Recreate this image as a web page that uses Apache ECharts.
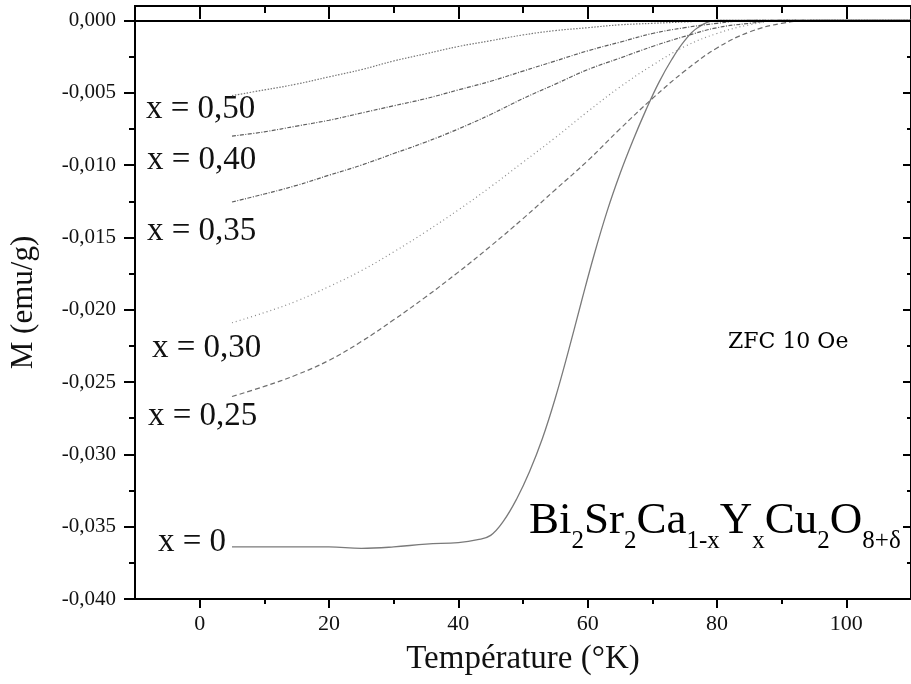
<!DOCTYPE html>
<html>
<head>
<meta charset="utf-8">
<script src="https://cdn.jsdelivr.net/npm/echarts@6/dist/echarts.min.js"></script>
<style>
  html, body { margin: 0; background: #fff; }
  #chart { width: 911px; height: 684px; }
</style>
</head>
<body>
<div id="chart"></div>
<script>
// températures communes aux échantillons dopés (K)
const temps = [5, 10, 15, 20, 25, 30, 35, 40, 45, 50, 55, 60, 65, 70, 75, 80, 85, 90, 95, 100, 105, 110]
const m050 = [-0.0052, -0.0048, -0.0044, -0.0039, -0.0034, -0.0028, -0.0023, -0.0018, -0.0014, -0.0010, -0.0007, -0.0005, -0.0003, -0.0002, -0.0001, 0, 0, 0, 0, 0, 0, 0]
const m040 = [-0.0080, -0.0077, -0.0073, -0.0069, -0.0064, -0.0059, -0.0054, -0.0048, -0.0042, -0.0035, -0.0028, -0.0021, -0.0015, -0.0009, -0.0005, -0.0002, 0, 0, 0, 0, 0, 0]
const m035 = [-0.01255, -0.0120, -0.0114, -0.0107, -0.0100, -0.0092, -0.0084, -0.0075, -0.0065, -0.0054, -0.0044, -0.0034, -0.0026, -0.0018, -0.0011, -0.0005, -0.0002, 0, 0, 0, 0, 0]
const m030 = [-0.0209, -0.0202, -0.0194, -0.0184, -0.0173, -0.0160, -0.0146, -0.0131, -0.0115, -0.0098, -0.0081, -0.0063, -0.0046, -0.0031, -0.0018, -0.0009, -0.0003, 0, 0, 0, 0, 0]
const m025 = [-0.0260, -0.0253, -0.0245, -0.0235, -0.0222, -0.0207, -0.0191, -0.0174, -0.0156, -0.0137, -0.0117, -0.0097, -0.0075, -0.0054, -0.0035, -0.0019, -0.0008, -0.0002, 0, 0, 0, 0]

// x = 0 : transition plus abrupte, points plus serrés
const temps0 = [5, 10, 15, 20, 25, 30, 35, 40, 43, 45, 47, 49, 51, 53, 55, 57, 59, 61, 63, 65, 67, 69, 71, 73, 75, 77, 80, 85, 90, 95, 100, 105, 110]
const m000 = [-0.0364, -0.0364, -0.0364, -0.0364, -0.0365, -0.0364, -0.0362, -0.0361, -0.0359, -0.0356, -0.0346, -0.0331, -0.0312, -0.0289, -0.0261, -0.0229, -0.0195, -0.0162, -0.0132, -0.0106, -0.0083, -0.0062, -0.0043, -0.0027, -0.0014, -0.0005, 0, 0, 0, 0, 0, 0, 0]

const xTicks = [0, 20, 40, 60, 80, 100]
const xMinor = [10, 30, 50, 70, 90]
const yTicks = [-0.040, -0.035, -0.030, -0.025, -0.020, -0.015, -0.010, -0.005, 0]
const yMinor = [-0.0375, -0.0325, -0.0275, -0.0225, -0.0175, -0.0125, -0.0075, -0.0025]

const curveLabels = ['x = 0,50', 'x = 0,40', 'x = 0,35', 'x = 0,30', 'x = 0,25', 'x = 0']

const SERIF = 'Liberation Serif'
const chart = echarts.init(document.getElementById('chart'))

function fmtY (v) {
  if (Math.abs(v) < 1e-9) return '0,000'
  return v.toFixed(3).replace('.', ',')
}

function courbe (name, xs, ys, color, dash, width) {
  return {
    name,
    type: 'line',
    xAxisIndex: 0,
    yAxisIndex: 0,
    data: xs.map((t, i) => [t, ys[i]]),
    showSymbol: false,
    smooth: 0.4,
    lineStyle: { color, width: width || 1, type: dash },
    z: 3
  }
}

function axeX (pos, ticks, len, inside, extra) {
  return Object.assign({
    type: 'value',
    position: pos,
    min: -10,
    max: 110,
    axisLine: { show: true, onZero: false, lineStyle: { color: '#000', width: 2 } },
    axisTick: { show: true, inside, length: len, customValues: ticks, lineStyle: { color: '#000', width: 2 } },
    axisLabel: { show: false },
    splitLine: { show: false }
  }, extra || {})
}

function axeY (pos, ticks, len, inside, extra) {
  return Object.assign({
    type: 'value',
    position: pos,
    min: -0.040,
    max: 0.001,
    axisLine: { show: true, onZero: false, lineStyle: { color: '#000', width: 2 } },
    axisTick: { show: true, inside, length: len, customValues: ticks, lineStyle: { color: '#000', width: 2 } },
    axisLabel: { show: false },
    splitLine: { show: false }
  }, extra || {})
}

const labelPos = [[146, 112], [147, 163], [147, 234], [152, 351], [148, 419], [158, 545]]

chart.setOption({
  animation: false,
  backgroundColor: '#fff',
  grid: { left: 134, right: -2, top: 6, bottom: 85 },
  xAxis: [
    axeX('bottom', xTicks, 9, false, {
      name: 'Température (°K)',
      nameLocation: 'middle',
      nameGap: 44,
      nameTextStyle: { fontFamily: SERIF, fontSize: 33, color: '#111' },
      axisLabel: { show: true, customValues: xTicks, margin: 14, fontFamily: SERIF, fontSize: 22, color: '#111' }
    }),
    axeX('bottom', xMinor, 5, false),
    axeX('top', xTicks, 13, true),
    axeX('top', xMinor, 7, true)
  ],
  yAxis: [
    axeY('left', yTicks, 11, false, {
      name: 'M (emu/g)',
      nameLocation: 'middle',
      nameGap: 96,
      nameTextStyle: { fontFamily: SERIF, fontSize: 31, color: '#111' },
      axisLabel: { show: true, customValues: yTicks, margin: 19, fontFamily: SERIF, fontSize: 21, color: '#111', formatter: fmtY }
    }),
    axeY('left', yMinor, 6, false),
    axeY('right', yTicks, 8, true),
    axeY('right', yMinor, 4, true)
  ],
  series: [
    Object.assign(courbe('x = 0', temps0, m000, '#7a7a7a', 'solid', 1.3), {
      markLine: {
        silent: true,
        symbol: 'none',
        label: { show: false },
        lineStyle: { color: '#000', width: 2, type: 'solid' },
        data: [{ yAxis: 0 }]
      }
    }),
    courbe('x = 0,25', temps, m025, '#6e6e6e', [5, 3], 1.2),
    courbe('x = 0,30', temps, m030, '#8a8a8a', [1, 3], 1.2),
    courbe('x = 0,35', temps, m035, '#5e5e5e', [4, 1.5, 1, 1.5], 1.2),
    courbe('x = 0,40', temps, m040, '#5e5e5e', [4, 1.5, 1, 1.5], 1.2),
    courbe('x = 0,50', temps, m050, '#777', [1.5, 1.5], 1.2)
  ],
  graphic: curveLabels.map((txt, i) => ({
    type: 'text',
    left: labelPos[i][0],
    top: labelPos[i][1] - 19,
    style: { text: txt, fontFamily: SERIF, fontSize: 33, fill: '#111' }
  })).concat([
    {
      type: 'text',
      left: 728,
      top: 331,
      style: { text: 'ZFC 10 Oe', fontFamily: 'DejaVu Serif', fontSize: 22, fill: '#000' }
    },
    {
      type: 'text',
      left: 529,
      top: 499,
      style: {
        text: '{m|Bi}{s|2}{m|Sr}{s|2}{m|Ca}{s|1-x}{m|Y}{s|x}{m|Cu}{s|2}{m|O}{s|8+δ}',
        fill: '#000',
        rich: {
          m: { fontFamily: SERIF, fontSize: 45, lineHeight: 47, verticalAlign: 'top', fill: '#000' },
          s: { fontFamily: SERIF, fontSize: 25, lineHeight: 25, padding: [30, 0, 0, 0], verticalAlign: 'top', fill: '#000' }
        }
      }
    }
  ])
})
</script>
</body>
</html>
